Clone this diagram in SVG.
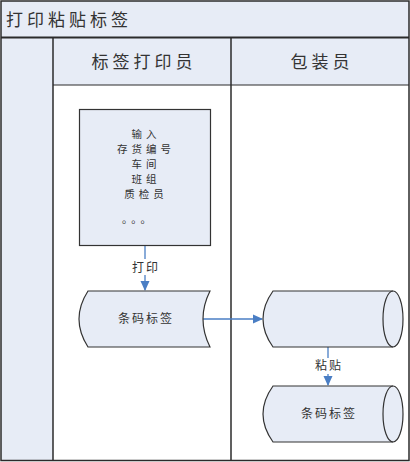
<svg xmlns="http://www.w3.org/2000/svg" width="410" height="462" viewBox="0 0 410 462">
<defs>
<style>
.band{fill:#E7ECF6;stroke:none}
.line{stroke:#2b2b2b;stroke-width:1.5;fill:none}
.shape{fill:#E7ECF6;stroke:#333;stroke-width:1.2}
.t{font-family:"Noto Sans CJK SC","Liberation Sans",sans-serif;fill:#333}
.hdr{font-size:17px;letter-spacing:4px}
.sm{font-size:12px;letter-spacing:2px}
.bx{font-size:10.5px;letter-spacing:4px}
.conn{stroke:#4A7EC4;stroke-width:1.3;fill:none}
.lbl{fill:#fff;stroke:none}
</style>
<marker id="ah" markerWidth="10" markerHeight="10" refX="9" refY="5" orient="auto" markerUnits="userSpaceOnUse">
<path d="M0,0.5 L10,5 L0,9.5 Z" fill="#4A7EC4"/>
</marker>
</defs>
<rect x="0" y="0" width="410" height="462" fill="#fff"/>
<g id="pool">
<rect class="band" x="1" y="1" width="408" height="37"/>
<rect class="band" x="1" y="38" width="52" height="422"/>
<rect class="band" x="53" y="38" width="356" height="47"/>
<rect class="line" x="1" y="1" width="408" height="459.5"/>
<line class="line" x1="1" y1="37.5" x2="409" y2="37.5" style="stroke-width:2"/>
<line class="line" x1="53" y1="38" x2="53" y2="460"/>
<line class="line" x1="53" y1="85" x2="409" y2="85" style="stroke-width:1"/>
<line class="line" x1="231" y1="38" x2="231" y2="460"/>
<text class="t hdr" x="6" y="26">打印粘贴标签</text>
</g>
<g id="lane1">
<text class="t hdr" x="144" y="68" text-anchor="middle">标签打印员</text>
</g>
<g id="lane2">
<text class="t hdr" x="322" y="68" text-anchor="middle">包装员</text>
</g>
<g id="connectors">
<line class="conn" x1="145" y1="246" x2="145" y2="290" marker-end="url(#ah)"/>
<rect class="lbl" x="129" y="259" width="32" height="16"/>
<text class="t sm" x="146" y="272" text-anchor="middle">打印</text>
<line class="conn" x1="201" y1="319" x2="262" y2="319" marker-end="url(#ah)"/>
<line class="conn" x1="328" y1="347" x2="328" y2="385" marker-end="url(#ah)"/>
<rect class="lbl" x="312" y="358" width="32" height="16"/>
<text class="t sm" x="329" y="370" text-anchor="middle">粘贴</text>
</g>
<g id="input">
<rect class="shape" x="79.5" y="109.5" width="131" height="136"/>
<text class="t bx" x="146" y="137.5" text-anchor="middle">输入</text>
<text class="t bx" x="146" y="152.5" text-anchor="middle">存货编号</text>
<text class="t bx" x="146" y="167.5" text-anchor="middle">车间</text>
<text class="t bx" x="146" y="182.5" text-anchor="middle">班组</text>
<text class="t bx" x="146" y="197.5" text-anchor="middle">质检员</text>
<text class="t bx" x="122" y="223">。。。</text>
</g>
<g id="label1">
<path class="shape" d="M88,291 L210,291 Q196,319 210,347 L88,347 Q70,319 88,291 Z"/>
<text class="t sm" x="146" y="323" text-anchor="middle">条码标签</text>
</g>
<g id="cyl1">
<path class="shape" d="M273,291 L393,291 A10,28 0 0 1 393,347 L273,347 Q253,319 273,291 Z"/>
<path class="shape" d="M393,291 A10,28 0 0 0 393,347" style="fill:none"/>
</g>
<g id="cyl2">
<path class="shape" d="M273,386 L393,386 A10,28 0 0 1 393,442 L273,442 Q253,414 273,386 Z"/>
<path class="shape" d="M393,386 A10,28 0 0 0 393,442" style="fill:none"/>
<text class="t sm" x="329" y="418" text-anchor="middle">条码标签</text>
</g>
</svg>
